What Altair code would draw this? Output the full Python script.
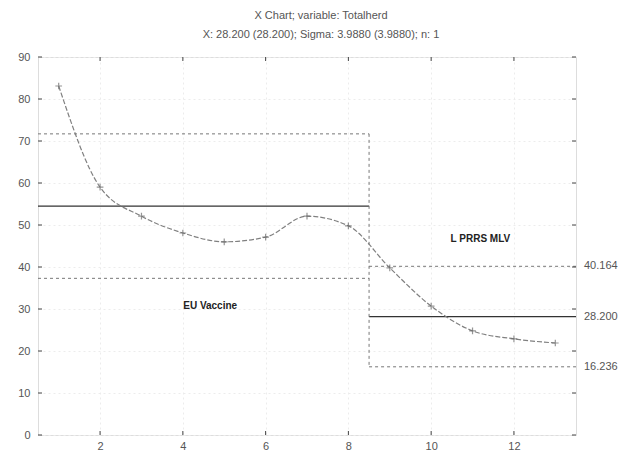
import altair as alt
import pandas as pd

# ---- data ----
sample = list(range(1, 14))
value = [83.1, 59.0, 52.1, 48.1, 46.0, 47.1, 52.1, 49.8, 39.8, 30.7, 24.8, 22.9, 21.9]

phase_start = [0.5, 8.5]
phase_end = [8.5, 13.5]
center = [54.5, 28.2]
ucl = [71.7, 40.164]
lcl = [37.3, 16.236]

right_vals = [40.164, 28.2, 16.236]
right_labels = ["40.164", "28.200", "16.236"]

annot_x = [4.66, 11.19]
annot_y = [30.7, 46.7]
annot_text = ["EU Vaccine", "L PRRS MLV"]

x_ticks = [2, 4, 6, 8, 10, 12]
y_ticks = [0, 10, 20, 30, 40, 50, 60, 70, 80, 90]

title_lines = ["X Chart; variable: Totalherd",
               "X: 28.200 (28.200); Sigma: 3.9880 (3.9880); n: 1"]

W, H = 538, 378
FONT = "Liberation Sans"
GRAY = "#555555"

pts = pd.DataFrame({"x": sample, "y": value})
lim = pd.DataFrame({"x": phase_start, "x2": phase_end, "c": center, "u": ucl, "l": lcl})
vert = pd.DataFrame({"x": [phase_end[0]], "top": [ucl[0]], "bot": [lcl[1]]})
rlab = pd.DataFrame({"y": right_vals, "t": right_labels, "x": [phase_end[1]] * 3})
ann = pd.DataFrame({"x": annot_x, "y": annot_y, "t": annot_text})
xt = pd.DataFrame({"x": x_ticks})
yt = pd.DataFrame({"y": y_ticks})

xs = alt.Scale(domain=[0.5, 13.5], nice=False, zero=False)
ys = alt.Scale(domain=[0, 90], nice=False)

xax = alt.Axis(values=x_ticks, labelFont=FONT, labelFontSize=11, labelColor=GRAY,
               ticks=False, domain=False, grid=True, gridColor="#ececec", gridDash=[2, 3],
               labelPadding=5, title=None)
yax = alt.Axis(values=y_ticks, labelFont=FONT, labelFontSize=11, labelColor=GRAY,
               ticks=False, domain=False, grid=True, gridColor="#ececec", gridDash=[2, 3],
               labelPadding=8, title=None)

base_x = alt.X("x:Q", scale=xs, axis=xax)

center_lines = alt.Chart(lim).mark_rule(color="#333333", strokeWidth=1.3).encode(
    x=base_x, x2="x2:Q", y=alt.Y("c:Q", scale=ys, axis=yax))
ucl_lines = alt.Chart(lim).mark_rule(color="#777777", strokeWidth=1, strokeDash=[3, 3]).encode(
    x=alt.X("x:Q", scale=xs), x2="x2:Q", y=alt.Y("u:Q", scale=ys))
lcl_lines = alt.Chart(lim).mark_rule(color="#777777", strokeWidth=1, strokeDash=[3, 3]).encode(
    x=alt.X("x:Q", scale=xs), x2="x2:Q", y=alt.Y("l:Q", scale=ys))
vline = alt.Chart(vert).mark_rule(color="#777777", strokeWidth=1, strokeDash=[3, 3]).encode(
    x=alt.X("x:Q", scale=xs), y=alt.Y("top:Q", scale=ys), y2="bot:Q")

line = alt.Chart(pts).mark_line(color="#808080", strokeWidth=1.2, strokeDash=[5, 2],
                                interpolate="monotone").encode(
    x=alt.X("x:Q", scale=xs), y=alt.Y("y:Q", scale=ys))
marks = alt.Chart(pts).mark_point(shape="M-1,0L1,0M0,-1L0,1", size=45, color="#6a6a6a",
                                  strokeWidth=1.2, filled=False).encode(
    x=alt.X("x:Q", scale=xs), y=alt.Y("y:Q", scale=ys))

rtext = alt.Chart(rlab).mark_text(align="left", baseline="middle", dx=8, font=FONT,
                                  fontSize=11, color=GRAY).encode(
    x=alt.X("x:Q", scale=xs), y=alt.Y("y:Q", scale=ys), text="t:N")

atext = alt.Chart(ann).mark_text(align="center", baseline="middle", font=FONT, fontSize=10,
                                 fontWeight="bold", color="#222222").encode(
    x=alt.X("x:Q", scale=xs), y=alt.Y("y:Q", scale=ys), text="t:N")

tick_col = "#444444"
bt = alt.Chart(xt).mark_rule(color=tick_col).encode(
    x=alt.X("x:Q", scale=xs), y=alt.value(H), y2=alt.value(H - 4))
tt = alt.Chart(xt).mark_rule(color=tick_col).encode(
    x=alt.X("x:Q", scale=xs), y=alt.value(0), y2=alt.value(4))
lt = alt.Chart(yt).mark_rule(color=tick_col).encode(
    y=alt.Y("y:Q", scale=ys), x=alt.value(0), x2=alt.value(4))
rt = alt.Chart(yt).mark_rule(color=tick_col).encode(
    y=alt.Y("y:Q", scale=ys), x=alt.value(W), x2=alt.value(W - 4))

chart = alt.layer(center_lines, ucl_lines, lcl_lines, vline, line, marks, rtext, atext,
                  bt, tt, lt, rt).properties(
    width=W, height=H,
    autosize=alt.AutoSizeParams(type="none"),
    padding={"left": 30, "top": 49, "right": 49, "bottom": 15},
    title=alt.TitleParams(text=title_lines, font=FONT, fontSize=11, fontWeight="normal",
                          color=GRAY, anchor="middle", offset=11, lineHeight=19, dx=14),
).configure_view(stroke="#444444", strokeWidth=1.3).configure(background="white")

chart.save("out.html", embed_options={"renderer": "svg", "actions": False})
